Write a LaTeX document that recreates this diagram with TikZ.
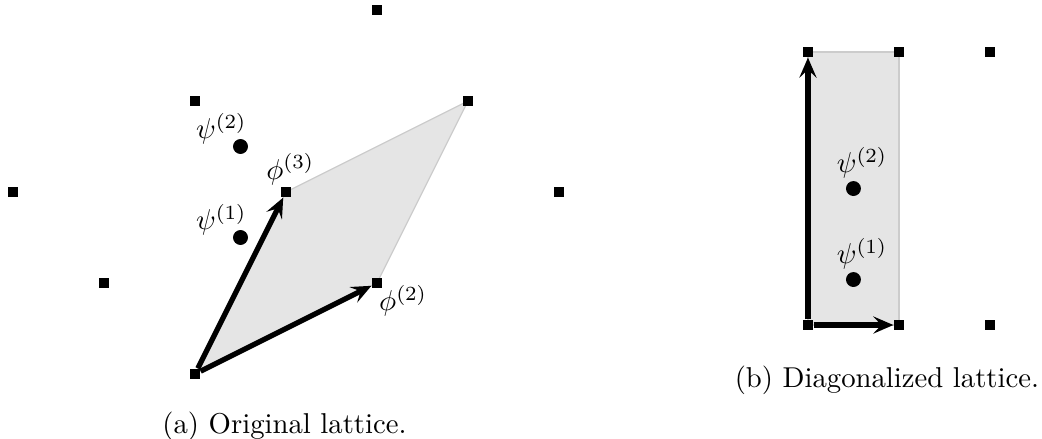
\documentclass[tikz,border=0pt]{standalone}
\usetikzlibrary{arrows.meta,positioning,backgrounds}
\colorlet{cellfill}{black!10}
\colorlet{celledge}{black!20}
\begin{document}
\begin{tikzpicture}[x=1.114cm, y=1.114cm, latpt/.style={fill,inner sep=0pt,minimum size=3.5pt}, psidot/.style={circle,fill,inner sep=0pt,minimum size=5.2pt}, lbl/.style={inner sep=0pt}, vec/.style={-{Stealth[length=7pt,width=6pt,inset=2.8pt]},line width=1.8pt}, cell/.style={fill=cellfill,draw=celledge}]
\useasboundingbox (-2.143,-0.714) rectangle (9.308,4.110);
\node[latpt] (o) at (0,0) {};
\node[latpt] (b2) at (2,1) {};
\node[latpt] (b3) at (1,2) {};
\node[latpt] (b23) at (3,3) {};
\node[latpt] (q1) at (2,4) {};
\node[latpt] (q2) at (0,3) {};
\node[latpt] (q3) at (-2,2) {};
\node[latpt] (q4) at (4,2) {};
\node[latpt] (q5) at (-1,1) {};
\node[psidot] (s1) at (0.5,1.5) {};
\node[psidot] (s2) at (0.5,2.5) {};
\node[lbl,above left=-1.5pt and -4.3pt of s1] (s1l) {$\psi^{(1)}$};
\node[lbl,above left=-1.5pt and -4.3pt of s2] (s2l) {$\psi^{(2)}$};
\node[lbl,above=0.4pt of b3,xshift=1.5pt] (b3l) {$\phi^{(3)}$};
\node[lbl,below right=-1.4pt and -1.4pt of b2] (b2l) {$\phi^{(2)}$};
\begin{scope}[on background layer]
\draw[cell] (o.center) -- (b2.center) -- (b23.center) -- (b3.center) -- cycle;
\end{scope}
\draw[vec] (o) -- (b2);
\draw[vec] (o) -- (b3);
\node (capa) at (0.984,-0.571) {(a) Original lattice.};
\begin{scope}[shift={(6.736,0.538)}]
\node[latpt] (r0) at (0,0) {};
\node[latpt] (r1) at (1,0) {};
\node[latpt] (r2) at (2,0) {};
\node[latpt] (t0) at (0,3) {};
\node[latpt] (t1) at (1,3) {};
\node[latpt] (t2) at (2,3) {};
\node[psidot] (d1) at (0.5,0.5) {};
\node[psidot] (d2) at (0.5,1.5) {};
\node[lbl,above=0.5pt of d1,xshift=3pt] (d1l) {$\psi^{(1)}$};
\node[lbl,above=0.5pt of d2,xshift=3pt] (d2l) {$\psi^{(2)}$};
\begin{scope}[on background layer]
\draw[cell] (r0.center) -- (r1.center) -- (t1.center) -- (t0.center) -- cycle;
\end{scope}
\draw[vec] (r0) -- (r1);
\draw[vec] (r0) -- (t0);
\node (capb) at (0.868,-0.604) {(b) Diagonalized lattice.};
\end{scope}
\end{tikzpicture}
\end{document}
